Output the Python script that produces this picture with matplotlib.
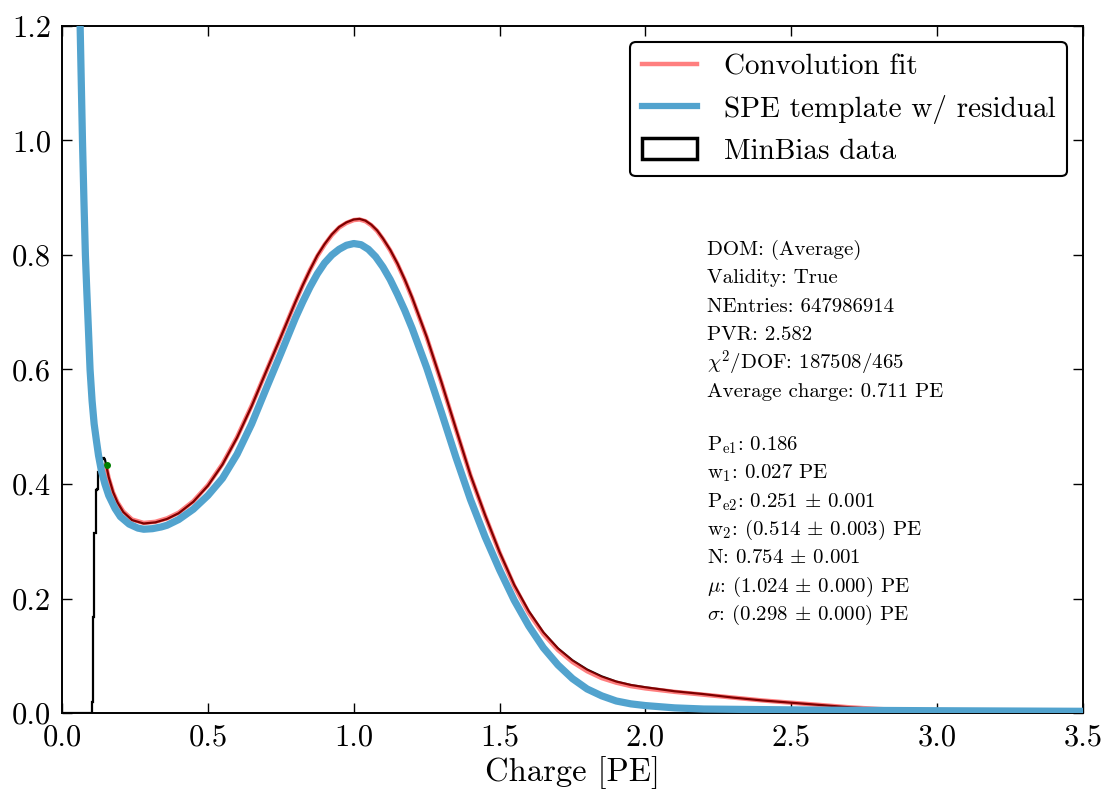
import numpy as np
import matplotlib
matplotlib.use('Agg')
import matplotlib.pyplot as plt
from matplotlib.patches import Rectangle
from matplotlib.lines import Line2D

plt.rcParams['font.family'] = 'serif'
plt.rcParams['font.serif'] = ['cmr10']
plt.rcParams['mathtext.fontset'] = 'cm'
plt.rcParams['axes.formatter.use_mathtext'] = True

# SPE template w/ residual
spe_x = [0.060, 0.062, 0.066, 0.070, 0.075, 0.080, 0.085, 0.090, 0.096, 0.103,
         0.110, 0.118, 0.125, 0.135, 0.147, 0.160, 0.182, 0.200, 0.230, 0.260,
         0.280, 0.310, 0.340, 0.360, 0.400, 0.450, 0.500, 0.550, 0.600, 0.650,
         0.700, 0.750, 0.800, 0.825, 0.850, 0.875, 0.900, 0.925, 0.950, 0.975,
         1.000, 1.025, 1.050, 1.075, 1.100, 1.125, 1.150, 1.175, 1.200, 1.250,
         1.300, 1.350, 1.400, 1.450, 1.500, 1.550, 1.600, 1.650, 1.700, 1.750,
         1.800, 1.850, 1.900, 1.950, 2.000, 2.100, 2.200, 2.400, 2.600, 3.000,
         3.500]
spe_y = [1.240, 1.200, 1.100, 1.000, 0.895, 0.800, 0.735, 0.675, 0.600, 0.545,
         0.505, 0.475, 0.450, 0.423, 0.400, 0.380, 0.357, 0.343, 0.330, 0.323,
         0.321, 0.322, 0.325, 0.328, 0.338, 0.356, 0.380, 0.410, 0.452, 0.505,
         0.567, 0.628, 0.690, 0.718, 0.744, 0.767, 0.786, 0.800, 0.810, 0.817,
         0.820, 0.818, 0.810, 0.797, 0.779, 0.757, 0.731, 0.703, 0.672, 0.603,
         0.526, 0.447, 0.373, 0.308, 0.250, 0.197, 0.152, 0.114, 0.084, 0.060,
         0.042, 0.030, 0.021, 0.016, 0.013, 0.009, 0.007, 0.006, 0.005, 0.004,
         0.003]

# Convolution fit
fit_x = [0.150, 0.160, 0.175, 0.190, 0.210, 0.240, 0.280, 0.320, 0.360, 0.400,
         0.450, 0.500, 0.550, 0.600, 0.650, 0.700, 0.750, 0.800, 0.825, 0.850,
         0.875, 0.900, 0.925, 0.950, 0.975, 1.000, 1.020, 1.040, 1.060, 1.080,
         1.100, 1.125, 1.150, 1.175, 1.200, 1.250, 1.300, 1.350, 1.400, 1.450,
         1.500, 1.550, 1.600, 1.650, 1.700, 1.750, 1.800, 1.850, 1.900, 1.950,
         2.000, 2.100, 2.200, 2.300, 2.400, 2.500, 2.600, 2.700, 2.800, 2.900,
         3.000, 3.200, 3.500]
fit_y = [0.433, 0.410, 0.385, 0.368, 0.352, 0.338, 0.332, 0.334, 0.340, 0.350,
         0.370, 0.398, 0.435, 0.482, 0.537, 0.597, 0.657, 0.718, 0.747, 0.774,
         0.798, 0.818, 0.835, 0.848, 0.856, 0.861, 0.862, 0.859, 0.852, 0.842,
         0.828, 0.808, 0.784, 0.756, 0.725, 0.656, 0.578, 0.496, 0.415, 0.345,
         0.280, 0.222, 0.175, 0.138, 0.110, 0.089, 0.073, 0.061, 0.053, 0.047,
         0.043, 0.037, 0.032, 0.027, 0.022, 0.018, 0.014, 0.010, 0.007, 0.005,
         0.003, 0.002, 0.001]

# MinBias data : premiers bins (montée en escalier)
data_edges = [0.000, 0.102, 0.107, 0.111, 0.1155, 0.120, 0.1245, 0.129, 0.1335, 0.138, 0.1425, 0.147]
data_counts = [0.000, 0.020, 0.168, 0.314, 0.390, 0.392, 0.421, 0.425, 0.442, 0.445, 0.443]

# MinBias data : reste de la distribution
data_x = [0.147, 0.150, 0.160, 0.175, 0.190, 0.210, 0.240, 0.280, 0.320, 0.360,
          0.400, 0.450, 0.500, 0.550, 0.600, 0.650, 0.700, 0.750, 0.800, 0.825,
          0.850, 0.875, 0.900, 0.925, 0.950, 0.975, 1.000, 1.020, 1.040, 1.060,
          1.080, 1.100, 1.125, 1.150, 1.175, 1.200, 1.250, 1.300, 1.350, 1.400,
          1.450, 1.500, 1.550, 1.600, 1.650, 1.700, 1.750, 1.800, 1.850, 1.900,
          1.950, 2.000, 2.100, 2.200, 2.300, 2.400, 2.500, 2.600, 2.700, 2.800,
          2.900, 3.000, 3.200, 3.500]
data_y = [0.443, 0.436, 0.412, 0.386, 0.368, 0.351, 0.337, 0.331, 0.333, 0.339,
          0.349, 0.369, 0.397, 0.434, 0.481, 0.536, 0.597, 0.657, 0.718, 0.747,
          0.774, 0.799, 0.819, 0.836, 0.849, 0.857, 0.862, 0.863, 0.860, 0.853,
          0.843, 0.829, 0.809, 0.785, 0.757, 0.726, 0.657, 0.579, 0.497, 0.416,
          0.346, 0.281, 0.224, 0.178, 0.141, 0.113, 0.092, 0.076, 0.064, 0.055,
          0.049, 0.045, 0.038, 0.033, 0.027, 0.022, 0.018, 0.014, 0.010, 0.007,
          0.005, 0.003, 0.002, 0.001]

# point vert (début du fit)
marker_x = [0.154]
marker_y = [0.433]

info_lines = [
    'DOM: (Average)',
    'Validity: True',
    'NEntries: 647986914',
    'PVR: 2.582',
    r'$\chi^2$/DOF: 187508/465',
    'Average charge: 0.711 PE',
    '',
    r'$\mathrm{P_{e1}}$: 0.186',
    r'$\mathrm{w_1}$: 0.027 PE',
    r'$\mathrm{P_{e2}}$: 0.251 $\pm$ 0.001',
    r'$\mathrm{w_2}$: (0.514 $\pm$ 0.003) PE',
    r'N: 0.754 $\pm$ 0.001',
    r'$\mu$: (1.024 $\pm$ 0.000) PE',
    r'$\sigma$: (0.298 $\pm$ 0.000) PE',
]

blue = '#52a3ce'


def main():
    fig = plt.figure(figsize=(11.1, 7.99), dpi=100)
    ax = fig.add_axes([0.0559, 0.1076, 0.9198, 0.8599])

    # données (escalier puis courbe)
    ax.stairs(data_counts, data_edges, baseline=None, color='black',
              linewidth=1.6, zorder=2)
    ax.plot(data_x, data_y, color='black', linewidth=1.6, zorder=2)

    ax.plot(fit_x, fit_y, color='red', alpha=0.5, linewidth=3.2, zorder=3)
    ax.plot(marker_x, marker_y, 'o', color='green', markersize=4, zorder=3)
    ax.plot(spe_x, spe_y, color=blue, linewidth=5.2, zorder=4,
            solid_capstyle='butt')

    ax.set_xlim(0, 3.5)
    ax.set_ylim(0, 1.2)
    ax.set_xticks(np.arange(0, 3.51, 0.5))
    ax.set_yticks(np.arange(0, 1.21, 0.2))
    ax.set_xticklabels(['%.1f' % v for v in np.arange(0, 3.51, 0.5)])
    ax.set_yticklabels(['%.1f' % v for v in np.arange(0, 1.21, 0.2)])
    ax.tick_params(direction='in', top=True, right=True, length=7, width=1,
                   labelsize=22, pad=8)
    for s in ax.spines.values():
        s.set_linewidth(1.4)
    ax.set_xlabel('Charge [PE]', fontsize=23.5, labelpad=3)

    handles = [Line2D([], [], color='red', alpha=0.5, linewidth=3.2),
               Line2D([], [], color=blue, linewidth=4.5),
               Rectangle((0, 0), 1, 1, facecolor='none', edgecolor='black', linewidth=2.5)]
    labels = ['Convolution fit', 'SPE template w/ residual', 'MinBias data']
    leg = ax.legend(handles, labels, loc='upper right', fontsize=21,
                    handlelength=1.9, handletextpad=0.9, borderaxespad=0.55,
                    labelspacing=0.5, fancybox=True, framealpha=1)
    leg.get_frame().set_edgecolor('black')
    leg.get_frame().set_linewidth(1.5)

    # bloc de texte des paramètres
    y = 0.674
    for line in info_lines:
        if line:
            ax.text(0.632, y, line, transform=ax.transAxes, fontsize=15,
                    va='center', ha='left')
            y -= 0.0413
        else:
            y -= 0.036

    fig.savefig('out.png', dpi=100)
    plt.close(fig)


if __name__ == '__main__':
    main()
